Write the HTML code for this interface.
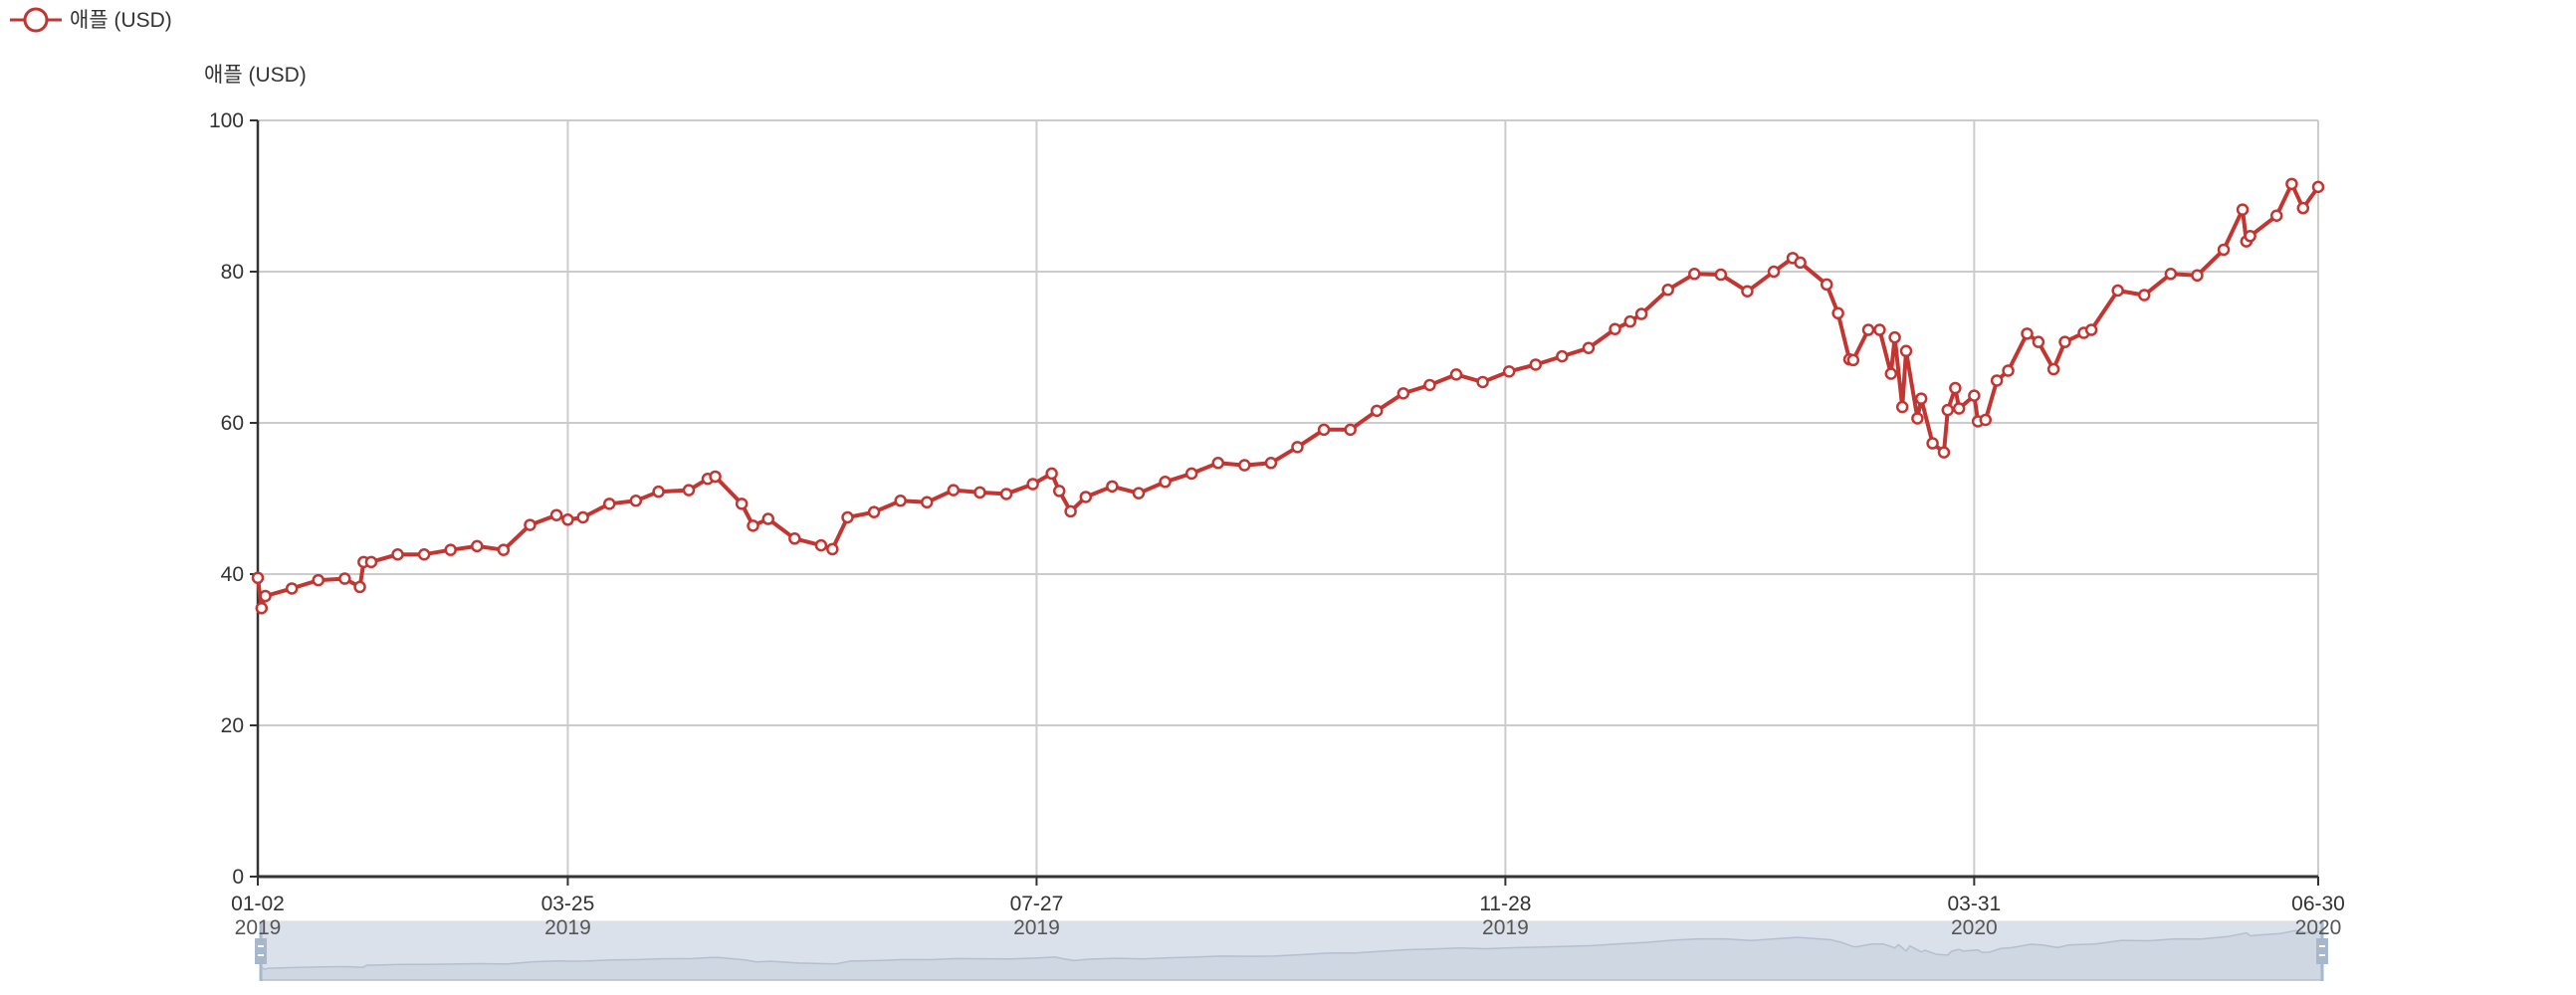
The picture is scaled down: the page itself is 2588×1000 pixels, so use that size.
<!DOCTYPE html>
<html><head><meta charset="utf-8">
<style>
html,body{margin:0;padding:0;background:#fff;}
svg{display:block;font-family:"Liberation Sans","Noto Sans CJK KR",sans-serif;}
</style></head>
<body>
<svg id="chart" width="2588" height="1000" viewBox="0 0 2588 1000"></svg>
<script>
const dates=["2019-01-02","2019-01-03","2019-01-04","2019-01-11","2019-01-18","2019-01-25","2019-01-29","2019-01-30","2019-02-01","2019-02-08","2019-02-15","2019-02-22","2019-03-01","2019-03-08","2019-03-15","2019-03-22","2019-03-25","2019-03-29","2019-04-05","2019-04-12","2019-04-18","2019-04-26","2019-05-01","2019-05-03","2019-05-10","2019-05-13","2019-05-17","2019-05-24","2019-05-31","2019-06-03","2019-06-07","2019-06-14","2019-06-21","2019-06-28","2019-07-05","2019-07-12","2019-07-19","2019-07-26","2019-07-31","2019-08-02","2019-08-05","2019-08-09","2019-08-16","2019-08-23","2019-08-30","2019-09-06","2019-09-13","2019-09-20","2019-09-27","2019-10-04","2019-10-11","2019-10-18","2019-10-25","2019-11-01","2019-11-08","2019-11-15","2019-11-22","2019-11-29","2019-12-06","2019-12-13","2019-12-20","2019-12-27","2019-12-31","2020-01-03","2020-01-10","2020-01-17","2020-01-24","2020-01-31","2020-02-07","2020-02-12","2020-02-14","2020-02-21","2020-02-24","2020-02-27","2020-02-28","2020-03-03","2020-03-06","2020-03-09","2020-03-10","2020-03-12","2020-03-13","2020-03-16","2020-03-17","2020-03-20","2020-03-23","2020-03-24","2020-03-26","2020-03-27","2020-03-31","2020-04-01","2020-04-03","2020-04-06","2020-04-09","2020-04-14","2020-04-17","2020-04-21","2020-04-24","2020-04-29","2020-05-01","2020-05-08","2020-05-15","2020-05-22","2020-05-29","2020-06-05","2020-06-10","2020-06-11","2020-06-12","2020-06-19","2020-06-23","2020-06-26","2020-06-30"];
const prices=[39.5,35.5,37.1,38.1,39.2,39.4,38.3,41.6,41.6,42.6,42.6,43.2,43.7,43.2,46.5,47.8,47.2,47.5,49.3,49.7,50.9,51.1,52.6,52.9,49.3,46.4,47.3,44.7,43.8,43.3,47.5,48.2,49.7,49.5,51.1,50.8,50.6,51.9,53.3,51.0,48.3,50.2,51.6,50.7,52.2,53.3,54.7,54.4,54.7,56.8,59.1,59.1,61.6,63.9,65.0,66.4,65.4,66.8,67.7,68.8,69.9,72.4,73.4,74.4,77.6,79.7,79.6,77.4,80.0,81.8,81.2,78.3,74.5,68.4,68.3,72.3,72.3,66.5,71.3,62.1,69.5,60.6,63.2,57.3,56.1,61.7,64.6,61.9,63.6,60.2,60.4,65.6,66.9,71.8,70.7,67.1,70.7,71.9,72.3,77.5,76.9,79.7,79.5,82.9,88.2,84.0,84.7,87.4,91.6,88.4,91.2];
const yTicks=[0,20,40,60,80,100];
const xTickDates=["2019-01-02","2019-03-25","2019-07-27","2019-11-28","2020-03-31","2020-06-30"];
const xTickLabels=[["01-02","2019"],["03-25","2019"],["07-27","2019"],["11-28","2019"],["03-31","2020"],["06-30","2020"]];

const svg=document.getElementById('chart');
const NS='http://www.w3.org/2000/svg';
const L=259,R=2329,T=121,B=881;
const t0=Date.parse(dates[0]),t1=Date.parse(dates[dates.length-1]);
const xs=d=>L+(Date.parse(d)-t0)/(t1-t0)*(R-L);
const ys=v=>B-v/100*(B-T);
const ymini=v=>985-(v-20)/85*59;
function mk(tag,attrs,parent){const e=document.createElementNS(NS,tag);for(const k in attrs)e.setAttribute(k,attrs[k]);(parent||svg).appendChild(e);return e;}

// data zoom slider (drawn first so labels sit over it)
const dz=mk('g',{});


mk('rect',{x:262,y:926,width:2071,height:59,fill:'#dbe1ea',stroke:'#ddd'},dz);
const ml=d=>262+(Date.parse(d)-t0)/(t1-t0)*2071;
let ap='262,985 '+dates.map((d,i)=>ml(d).toFixed(1)+','+ymini(prices[i]).toFixed(1)).join(' ')+' 2333,985';
const ar=mk('polygon',{points:ap,fill:'#cfd7e2',stroke:'#b4bfcf','stroke-width':1.5},dz);


[262,2333].forEach(hx=>{
  const h=mk('g',{});
  
  
  mk('line',{x1:hx,x2:hx,y1:926,y2:986,stroke:'#a7b7cc','stroke-width':3},h);
  mk('rect',{x:hx-6,y:943,width:12,height:26,fill:'#a7b7cc'},h);
  mk('line',{x1:hx-3,x2:hx+3,y1:951,y2:951,stroke:'#fff','stroke-width':2},h);
  mk('line',{x1:hx-3,x2:hx+3,y1:960,y2:960,stroke:'#fff','stroke-width':2},h);
});

// grid
yTicks.forEach(v=>{
  if(v>0){const g=mk('line',{x1:L,x2:R,y1:ys(v),y2:ys(v),stroke:'#ccc','stroke-width':2});
  
  }
  const tk=mk('line',{x1:L-8,x2:L,y1:ys(v),y2:ys(v),stroke:'#333','stroke-width':2});
  
  
  const tx=mk('text',{x:L-14,y:ys(v)+7,'text-anchor':'end','font-size':21,fill:'#333'});
  tx.textContent=v;
  
  
});
xTickDates.forEach((d,i)=>{
  const x=xs(d);
  if(i>0){const g=mk('line',{x1:x,x2:x,y1:T,y2:B,stroke:'#ccc','stroke-width':2});
  
  }
  const tk=mk('line',{x1:x,x2:x,y1:B,y2:B+9,stroke:'#333','stroke-width':2});
  
  
  const t1e=mk('text',{x:x,y:B+34,'text-anchor':'middle','font-size':21,fill:'#333'});
  t1e.textContent=xTickLabels[i][0];
  
  
  const t2e=mk('text',{x:x,y:B+58,'text-anchor':'middle','font-size':21,fill:'#555'});
  t2e.textContent=xTickLabels[i][1];
  
  
});
const ya=mk('line',{x1:L,x2:L,y1:T,y2:B,stroke:'#333','stroke-width':2.5});


const xa=mk('line',{x1:L,x2:R,y1:B,y2:B,stroke:'#333','stroke-width':3});



const yt=mk('text',{x:205,y:82,'font-size':21,fill:'#333'});
yt.textContent='애플 (USD)';



// legend
const lg=mk('g',{});


mk('line',{x1:10,x2:62,y1:20,y2:20,stroke:'#c23531','stroke-width':3},lg);
mk('circle',{cx:36,cy:20,r:11,fill:'#fff',stroke:'#c23531','stroke-width':3},lg);
const lt=mk('text',{x:70,y:27,'font-size':21,fill:'#333'},lg);
lt.textContent='애플 (USD)';

// series line
const pts=dates.map((d,i)=>xs(d).toFixed(1)+','+ys(prices[i]).toFixed(1)).join(' ');
const pl=mk('polyline',{points:pts,fill:'none',stroke:'#c23531','stroke-width':4,'stroke-linejoin':'round'});


dates.forEach((d,i)=>{
  const c=mk('circle',{cx:xs(d),cy:ys(prices[i]),r:5,fill:'#fff',stroke:'#c23531','stroke-width':2.5});
  
  
});
</script>
</body></html>
